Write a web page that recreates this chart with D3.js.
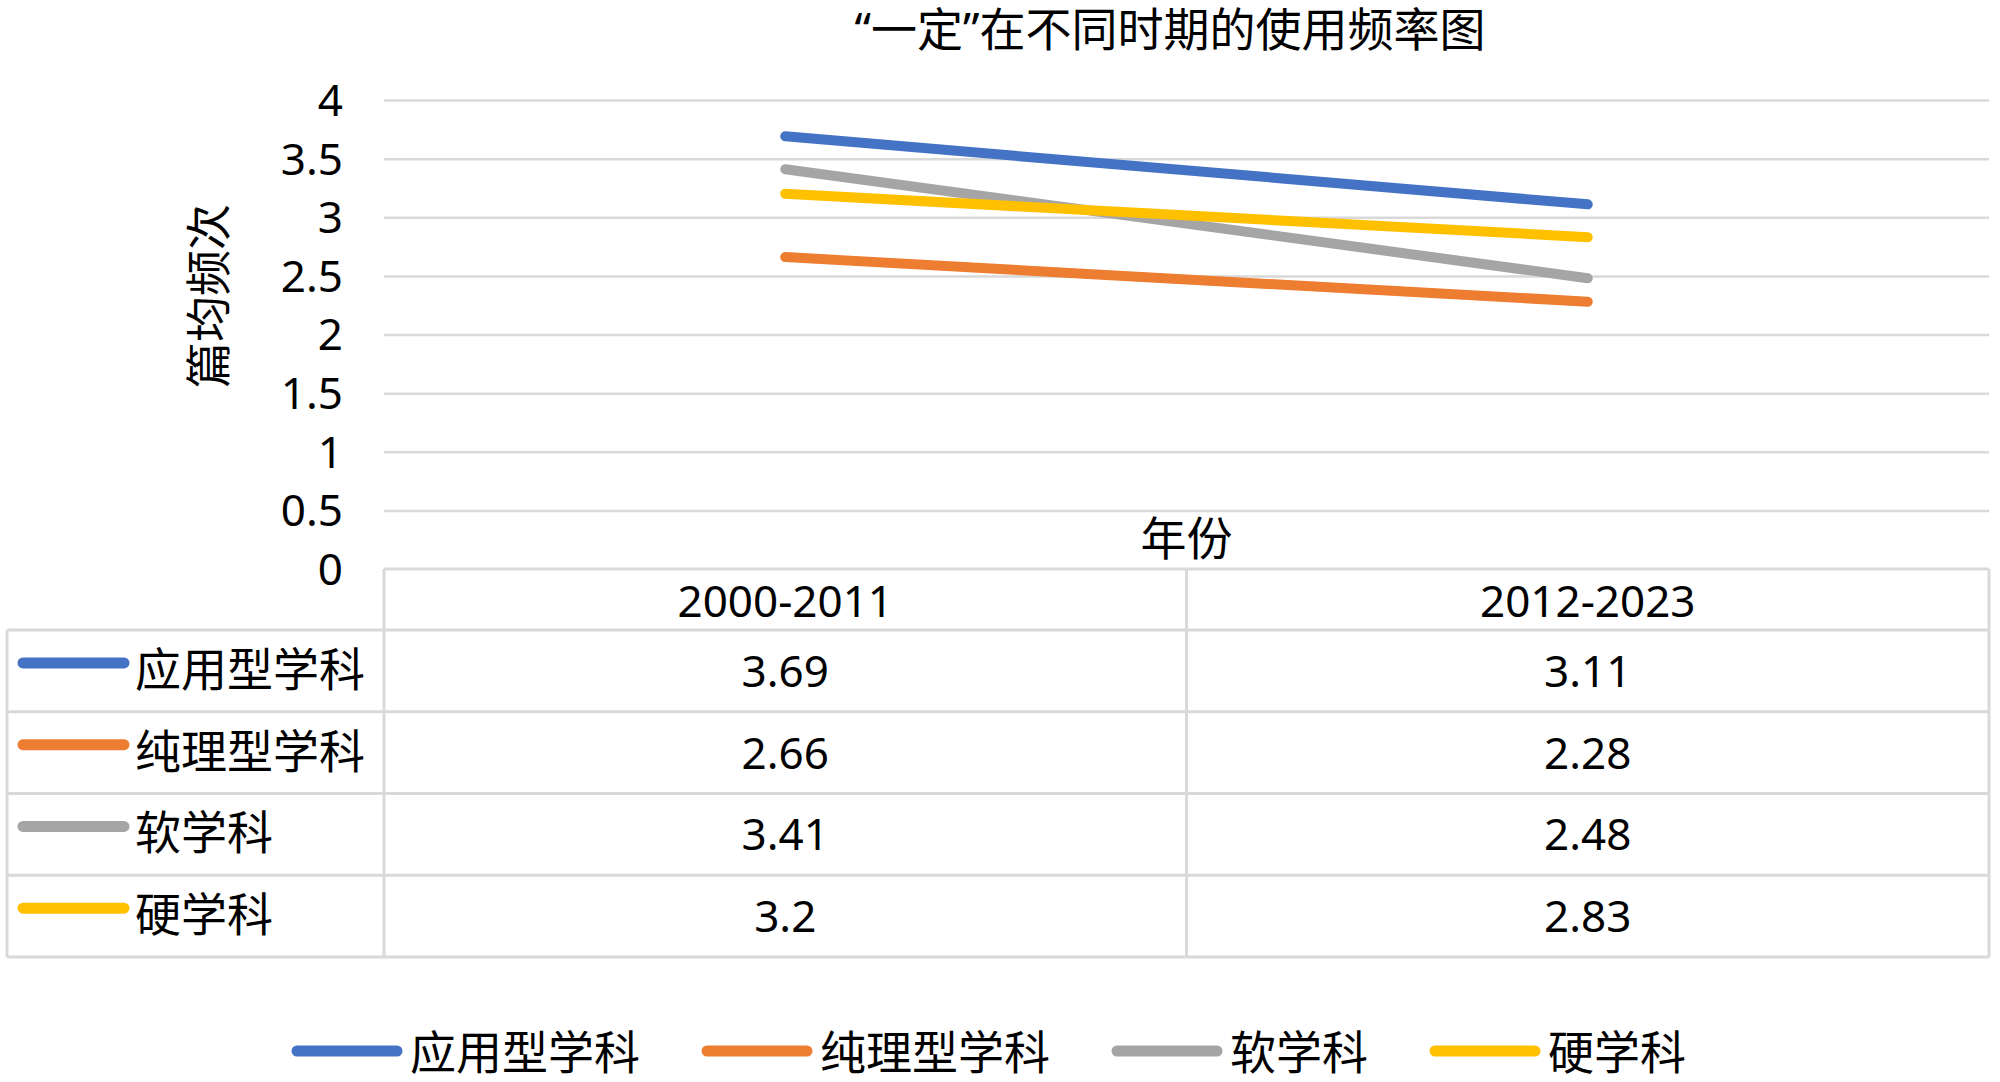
<!DOCTYPE html>
<meta charset='utf-8'>
<title>“一定”在不同时期的使用频率图</title>
<style>
body { margin: 0; background: #fff; }
svg text { font-family: 'Noto Sans', 'Noto Sans CJK SC', sans-serif; fill: #000; }
.grid line { stroke: #d9d9d9; stroke-width: 2.5px; }
.grid path { display: none; }
.yaxis path, .yaxis line { display: none; }
.tbl line { stroke: #d9d9d9; stroke-width: 3px; }
.series { fill: none; stroke-width: 10px; stroke-linecap: round; }
</style>
<body>
<script src='https://d3js.org/d3.v7.min.js'></script>
<script>
// chart data
var periods = ['2000-2011', '2012-2023'];
var seriesNames = ['应用型学科', '纯理型学科', '软学科', '硬学科'];
var applied = [3.69, 3.11];
var pure = [2.66, 2.28];
var soft = [3.41, 2.48];
var hard = [3.2, 2.83];
var colors = ['#4472c4', '#ed7d31', '#a5a5a5', '#ffc000'];
var yTicks = [0, 0.5, 1, 1.5, 2, 2.5, 3, 3.5, 4];

var seriesValues = [applied, pure, soft, hard];

var W = 2000, H = 1082;
var plotLeft = 384, plotRight = 1989, plotTop = 100, plotBottom = 569;
var tableLeft = 7, headerH = 61, rowH = 81.75;

var svg = d3.select('body').append('svg')
    .attr('width', W)
    .attr('height', H);

var x = d3.scaleBand().domain(periods).range([plotLeft, plotRight]);
var y = d3.scaleLinear().domain([0, 4]).range([plotBottom, plotTop]);

// title
svg.append('text')
    .attr('x', 1170)
    .attr('y', 46)
    .attr('text-anchor', 'middle')
    .style('font-size', '46px')
    .text('“一定”在不同时期的使用频率图');

// gridlines
svg.append('g')
    .attr('class', 'grid')
    .attr('transform', 'translate(' + plotLeft + ',0)')
    .call(d3.axisLeft(y).tickValues(yTicks.slice(1)).tickSize(-(plotRight - plotLeft)).tickFormat(''));

// y axis labels
var ya = svg.append('g')
    .attr('class', 'yaxis')
    .attr('transform', 'translate(' + (plotLeft - 41) + ',0)')
    .call(d3.axisLeft(y).tickValues(yTicks).tickSize(0).tickPadding(0).tickFormat(d3.format('')));
ya.selectAll('text').style('font-size', '44px').attr('dy', '0.35em');

// y axis title
svg.append('text')
    .attr('transform', 'translate(207,296) rotate(-90)')
    .attr('text-anchor', 'middle')
    .attr('dominant-baseline', 'central')
    .style('font-size', '46px')
    .text('篇均频次');

// x axis title
svg.append('text')
    .attr('x', (plotLeft + plotRight) / 2)
    .attr('y', 537)
    .attr('text-anchor', 'middle')
    .attr('dominant-baseline', 'central')
    .style('font-size', '46px')
    .text('年份');

// lines
var line = d3.line()
    .x(function(d, i) { return x(periods[i]) + x.bandwidth() / 2; })
    .y(function(d) { return y(d); });

seriesValues.forEach(function(vals, i) {
  svg.append('path')
      .datum(vals)
      .attr('class', 'series')
      .attr('stroke', colors[i])
      .attr('d', line);
});

// data table
var tbl = svg.append('g').attr('class', 'tbl');
var tableBottom = plotBottom + headerH + rowH * seriesNames.length;

function hline(x1, x2, yy) {
  tbl.append('line').attr('x1', x1).attr('x2', x2).attr('y1', yy).attr('y2', yy);
}
function vline(xx, y1, y2) {
  tbl.append('line').attr('x1', xx).attr('x2', xx).attr('y1', y1).attr('y2', y2);
}

hline(plotLeft, plotRight, plotBottom);
for (var r = 0; r <= seriesNames.length; r++) {
  hline(tableLeft, plotRight, plotBottom + headerH + rowH * r);
}
vline(tableLeft, plotBottom + headerH, tableBottom);
vline(plotLeft, plotBottom, tableBottom);
periods.forEach(function(p) {
  vline(x(p) + x.bandwidth(), plotBottom, tableBottom);
});

// header
periods.forEach(function(p) {
  svg.append('text')
      .attr('x', x(p) + x.bandwidth() / 2)
      .attr('y', plotBottom + headerH / 2)
      .attr('text-anchor', 'middle')
      .attr('dominant-baseline', 'central')
      .style('font-size', '44px')
      .text(p);
});

// rows
seriesNames.forEach(function(name, i) {
  var cy = plotBottom + headerH + rowH * i + rowH / 2;
  svg.append('line')
      .attr('x1', 23).attr('x2', 124)
      .attr('y1', cy - 8).attr('y2', cy - 8)
      .attr('stroke', colors[i])
      .attr('stroke-width', 11)
      .attr('stroke-linecap', 'round');
  svg.append('text')
      .attr('x', 135)
      .attr('y', cy - 3)
      .attr('dominant-baseline', 'central')
      .style('font-size', '46px')
      .text(name);
  seriesValues[i].forEach(function(v, j) {
    svg.append('text')
        .attr('x', x(periods[j]) + x.bandwidth() / 2)
        .attr('y', cy - 1)
        .attr('text-anchor', 'middle')
        .attr('dominant-baseline', 'central')
        .style('font-size', '44px')
        .text(v);
  });
});

// bottom legend
var leg = svg.append('g');
var legY = 1051, cx = 0;
seriesNames.forEach(function(name, i) {
  var g = leg.append('g').attr('transform', 'translate(' + cx + ',0)');
  g.append('line')
      .attr('x1', 5).attr('x2', 105)
      .attr('y1', legY).attr('y2', legY)
      .attr('stroke', colors[i])
      .attr('stroke-width', 11)
      .attr('stroke-linecap', 'round');
  var t = g.append('text')
      .attr('x', 118)
      .attr('y', legY)
      .attr('dominant-baseline', 'central')
      .style('font-size', '46px')
      .text(name);
  cx += 118 + t.node().getComputedTextLength() + 62;
});
var legW = cx - 62;
leg.attr('transform', 'translate(' + (989 - legW / 2) + ',0)');
</script>
</body>
